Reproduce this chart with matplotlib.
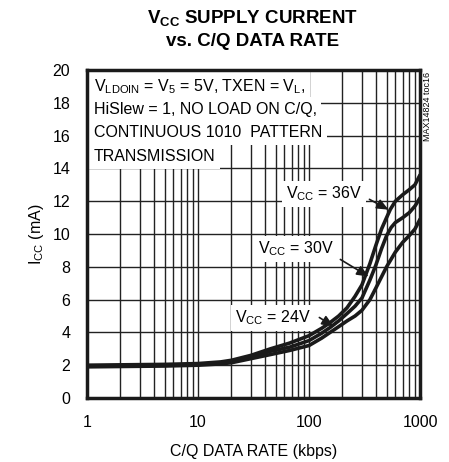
import matplotlib
matplotlib.use("Agg")
import matplotlib.pyplot as plt
from matplotlib.ticker import LogLocator, NullFormatter, FixedLocator
import numpy as np

plt.rcParams['font.family'] = ['Liberation Sans', 'DejaVu Sans']
plt.rcParams['mathtext.fontset'] = 'custom'
plt.rcParams['mathtext.rm'] = 'Liberation Sans'
plt.rcParams['mathtext.it'] = 'Liberation Sans'
plt.rcParams['mathtext.bf'] = 'Liberation Sans:bold'

# data (kbps, mA)
rate_36 = [1, 5, 10, 16, 20, 30, 45, 67, 100, 130, 155, 185, 220, 260, 300, 354, 400, 450, 500, 540, 600, 700, 800, 900, 1000]
icc_36 = [2.0, 2.05, 2.1, 2.2, 2.3, 2.6, 3.0, 3.35, 3.8, 4.25, 4.6, 5.0, 5.5, 6.2, 6.9, 8.2, 9.3, 10.3, 11.0, 11.5, 12.0, 12.4, 12.7, 13.0, 13.6]
rate_30 = [1, 5, 10, 16, 20, 30, 45, 67, 100, 130, 155, 185, 220, 260, 300, 354, 400, 450, 500, 550, 600, 700, 800, 900, 1000]
icc_30 = [1.95, 2.0, 2.05, 2.15, 2.22, 2.5, 2.85, 3.1, 3.5, 3.95, 4.3, 4.7, 5.15, 5.6, 6.1, 7.2, 8.1, 9.1, 9.9, 10.4, 10.7, 11.0, 11.3, 11.7, 12.2]
rate_24 = [1, 5, 10, 16, 20, 30, 45, 67, 100, 130, 155, 185, 220, 260, 300, 354, 400, 500, 600, 700, 800, 900, 1000]
icc_24 = [1.9, 1.95, 2.0, 2.08, 2.15, 2.4, 2.65, 2.9, 3.2, 3.65, 4.0, 4.35, 4.7, 5.0, 5.35, 6.0, 6.7, 8.0, 8.9, 9.5, 9.9, 10.3, 10.9]

x_ticks = [1, 10, 100, 1000]
x_ticklabels = ['1', '10', '100', '1000']
y_ticks = list(range(0, 21, 2))

fig = plt.figure(figsize=(4.49, 4.62), dpi=100)
ax = fig.add_axes([87 / 449, 64 / 462, 333 / 449, 328 / 462])

ax.set_xscale('log')
ax.set_xlim(1, 1000)
ax.set_ylim(0, 20)

ax.xaxis.set_major_locator(FixedLocator(x_ticks))
ax.set_xticklabels(x_ticklabels)
ax.xaxis.set_minor_locator(LogLocator(base=10, subs=np.arange(2, 10)))
ax.xaxis.set_minor_formatter(NullFormatter())
ax.set_yticks(y_ticks)

ax.grid(True, which='both', axis='x', color='#222222', lw=1.0)
ax.grid(True, which='major', axis='y', color='#222222', lw=1.0)
ax.set_axisbelow(True)
ax.tick_params(which='both', length=0, labelsize=11.5)
ax.tick_params(axis='x', pad=12)
ax.tick_params(axis='y', pad=12)
for s in ax.spines.values():
    s.set_linewidth(2.5)
    s.set_color('#1a1a1a')

for r, v in [(rate_36, icc_36), (rate_30, icc_30), (rate_24, icc_24)]:
    ax.plot(r, v, color='#1a1a1a', lw=2.6, zorder=3, solid_capstyle='round',
            solid_joinstyle='round')

ax.set_xlabel('C/Q DATA RATE (kbps)', fontsize=11.5, labelpad=10)
ax.set_ylabel('I$_{CC}$ (mA)', fontsize=11.5, labelpad=5)

fig.text(253 / 449, 1 - 18 / 462, '$\\mathbf{V_{CC}}$ SUPPLY CURRENT', ha='center', va='center',
         fontsize=13.5, fontweight='bold')
fig.text(253 / 449, 1 - 41 / 462, 'vs. C/Q DATA RATE', ha='center', va='center',
         fontsize=13.5, fontweight='bold')

fig.text(427 / 449, 1 - 106 / 462, 'MAX14824 toc16', rotation=90, ha='center', va='center',
         fontsize=6.5)

box = dict(facecolor='white', edgecolor='none', pad=3.5)
note = ['V$_{LDOIN}$ = V$_5$ = 5V, TXEN = V$_L$,',
        'HiSlew = 1, NO LOAD ON C/Q,',
        'CONTINUOUS 1010  PATTERN',
        'TRANSMISSION']
for i, line in enumerate(note):
    ax.text(0.02, 0.95 - i * 0.071, line, transform=ax.transAxes, fontsize=11.5,
            ha='left', va='center', bbox=box, zorder=2)

ann = [('V$_{CC}$ = 36V', (324, 194), (367, 198), (391, 211)),
       ('V$_{CC}$ = 30V', (296, 249), (338, 258), (371, 278)),
       ('V$_{CC}$ = 24V', (273, 318), (317, 316), (336, 328))]


def px2data(px, py):
    return 10 ** ((px - 87) / 111.0), (398 - py) / 16.4


for label, tpos, start, tip in ann:
    tx, ty = px2data(*tpos)
    ax.text(tx, ty, label, fontsize=11.5, ha='center', va='center',
            bbox=dict(facecolor='white', edgecolor='none', pad=2.5), zorder=2)
    ax.annotate('', xy=px2data(*tip), xytext=px2data(*start),
                arrowprops=dict(arrowstyle='-|>,head_length=0.7,head_width=0.3',
                                color='#1a1a1a', lw=1.2), zorder=5)

fig.savefig('out.png', dpi=100)
